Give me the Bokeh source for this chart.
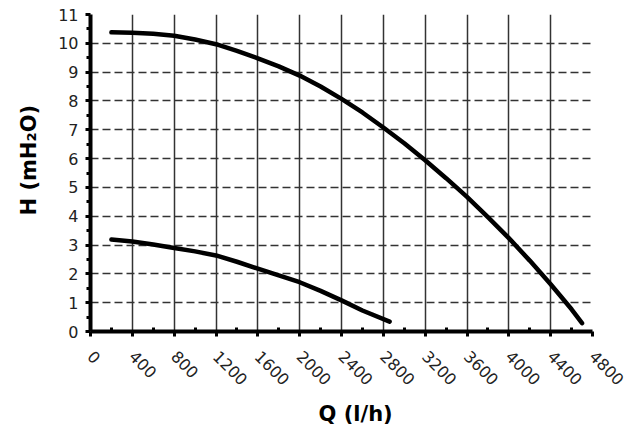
import math
from bokeh.plotting import figure
from bokeh.models import FixedTicker, Range1d, Title
from bokeh.embed import file_html
from bokeh.resources import INLINE

# Data
q_upper = [200, 400, 600, 800, 1000, 1200, 1400, 1600, 1800, 2000, 2200, 2400, 2600,
           2800, 3000, 3200, 3400, 3600, 3800, 4000, 4200, 4400, 4600, 4700]
h_upper = [10.38, 10.37, 10.33, 10.26, 10.13, 9.97, 9.74, 9.48, 9.20, 8.88, 8.50, 8.07, 7.60,
           7.08, 6.53, 5.94, 5.32, 4.67, 3.97, 3.24, 2.46, 1.64, 0.77, 0.29]

q_lower = [200, 400, 600, 800, 1000, 1200, 1400, 1600, 1800, 2000, 2200, 2400, 2600, 2860]
h_lower = [3.19, 3.12, 3.02, 2.90, 2.78, 2.64, 2.42, 2.18, 1.95, 1.71, 1.41, 1.08, 0.73, 0.34]

x_ticks = [0, 400, 800, 1200, 1600, 2000, 2400, 2800, 3200, 3600, 4000, 4400, 4800]
x_minor = [200 + 400 * i for i in range(12)]
y_ticks = list(range(0, 12))
y_minor = [0.5 + i for i in range(11)]

x_title = "Q (l/h)"
y_title = "H (mH₂O)"

p = figure(
    frame_width=502, frame_height=317,
    x_range=Range1d(0, 4800), y_range=Range1d(0, 11),
    output_backend="svg", toolbar_location=None, tools="",
    min_border_left=88, min_border_top=14, min_border_right=38, min_border_bottom=100,
)
p.outline_line_color = None
p.background_fill_color = "white"
p.border_fill_color = "white"

p.xaxis.ticker = FixedTicker(ticks=x_ticks, minor_ticks=x_minor)
p.yaxis.ticker = FixedTicker(ticks=y_ticks, minor_ticks=y_minor)

font = "DejaVu Sans"
for ax in (p.xaxis[0], p.yaxis[0]):
    ax.axis_line_width = 4
    ax.axis_line_color = "black"
    ax.major_tick_line_color = "black"
    ax.major_tick_line_width = 3
    ax.minor_tick_line_color = "black"
    ax.minor_tick_line_width = 3
    ax.major_label_text_font = font
    ax.major_label_text_font_size = "16px"
    ax.major_label_text_color = "#222222"

p.xaxis.major_tick_out = 5
p.xaxis.major_tick_in = 0
p.xaxis.minor_tick_in = 4
p.xaxis.minor_tick_out = 0
p.xaxis.major_label_orientation = -math.pi / 4
p.xaxis.major_label_standoff = 17

p.yaxis.major_tick_out = 5
p.yaxis.major_tick_in = 0
p.yaxis.minor_tick_in = 0
p.yaxis.minor_tick_out = 4
p.yaxis.major_label_standoff = 7

p.xgrid.grid_line_color = "#333333"
p.xgrid.grid_line_width = 1.5
p.ygrid.grid_line_color = "#333333"
p.ygrid.grid_line_width = 1.5
p.ygrid.grid_line_dash = "8 4"

p.line(q_upper, h_upper, line_color="black", line_width=4.5, line_cap="round", line_join="round")
p.line(q_lower, h_lower, line_color="black", line_width=4.5, line_cap="round", line_join="round")

p.add_layout(Title(text=x_title, align="left", offset=228, standoff=12,
                   text_font=font, text_font_style="bold", text_font_size="21px",
                   text_color="black"), "below")
p.add_layout(Title(text=y_title, align="left", offset=116, standoff=29,
                   text_font=font, text_font_style="bold", text_font_size="21px",
                   text_color="black"), "left")

open("out.html", "w").write(file_html(p, INLINE))
